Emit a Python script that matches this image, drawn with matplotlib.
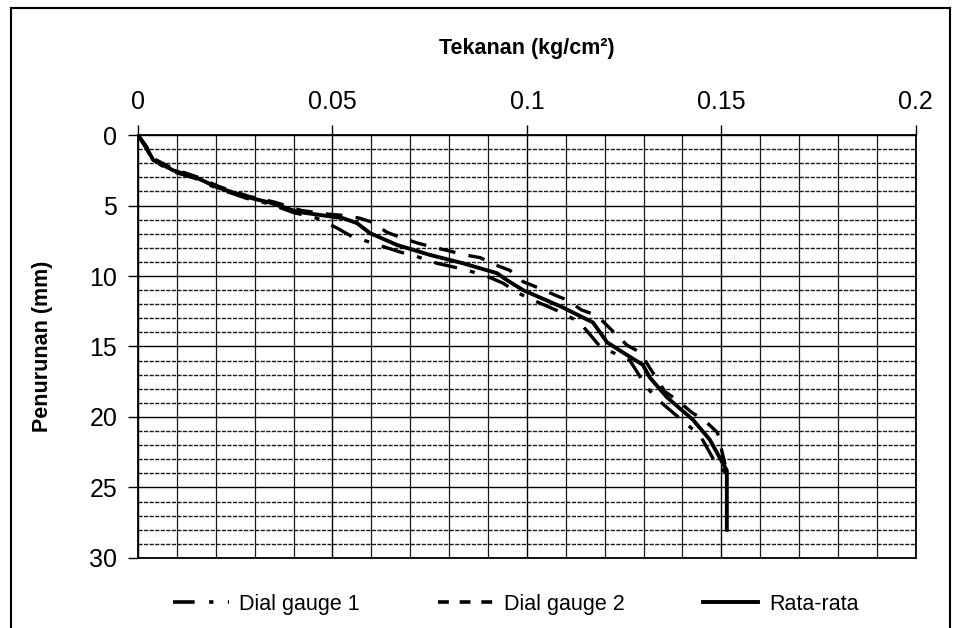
import matplotlib.pyplot as plt
from matplotlib.ticker import MultipleLocator
from matplotlib.lines import Line2D

plt.rcParams['font.family'] = ['Liberation Sans', 'DejaVu Sans']

# tekanan (kg/cm2) dan penurunan (mm)
p_rata = [0, 0.002, 0.0039, 0.009, 0.0152, 0.0203, 0.028, 0.034, 0.041, 0.0476,
          0.0527, 0.0563, 0.0596, 0.0666, 0.075, 0.0836, 0.0923, 0.0949, 0.099,
          0.109, 0.117, 0.1206, 0.1257, 0.1298, 0.1316, 0.136, 0.1427, 0.147,
          0.1514, 0.1514]
s_rata = [0, 0.8, 1.77, 2.5, 3.05, 3.7, 4.4, 4.8, 5.45, 5.7,
          5.9, 6.25, 6.95, 7.8, 8.5, 9.1, 9.8, 10.3, 11.0,
          12.2, 13.3, 14.7, 15.6, 16.3, 17.2, 18.6, 20.2, 21.6,
          23.8, 28.0]

p_dg1 = [0, 0.002, 0.004, 0.009, 0.015, 0.02, 0.028, 0.034, 0.04, 0.046,
         0.0512, 0.055, 0.0596, 0.0674, 0.072, 0.0769, 0.081, 0.0887, 0.0938,
         0.0977, 0.1015, 0.109, 0.1136, 0.1188, 0.1265, 0.1308, 0.1342, 0.1406,
         0.1445, 0.1488, 0.1514]
s_dg1 = [0, 0.9, 1.85, 2.6, 3.1, 3.75, 4.5, 4.9, 5.5, 5.9,
         6.6, 7.2, 7.6, 8.3, 8.65, 9.1, 9.35, 9.9, 10.5,
         11.2, 11.7, 12.6, 13.3, 15.0, 16.0, 17.9, 18.9, 20.4,
         21.3, 23.4, 24.0]

p_dg2 = [0, 0.002, 0.0042, 0.0095, 0.0155, 0.0208, 0.0285, 0.035, 0.042, 0.0485,
         0.0527, 0.057, 0.0604, 0.064, 0.0679, 0.0717, 0.0758, 0.0797, 0.084,
         0.088, 0.0918, 0.0956, 0.099, 0.1026, 0.1072, 0.1103, 0.114, 0.118,
         0.1257, 0.129, 0.1355, 0.1386, 0.1425, 0.1455, 0.149, 0.1514]
s_dg2 = [0, 0.75, 1.7, 2.45, 3.0, 3.65, 4.35, 4.75, 5.35, 5.6,
         5.7, 5.9, 6.2, 6.9, 7.3, 7.65, 7.95, 8.2, 8.5,
         8.7, 9.2, 9.6, 10.4, 10.8, 11.35, 11.7, 12.4, 12.8,
         14.9, 15.4, 18.2, 18.8, 19.7, 20.2, 21.1, 23.9]

fig = plt.figure(figsize=(9.55, 6.28), dpi=100)
fig.subplots_adjust(left=0.1445, right=0.959, top=0.785, bottom=0.1115)
ax = fig.add_subplot(1, 1, 1)

ax.plot(p_dg1, s_dg1, color='black', lw=2.4, dashes=(7, 4, 1.5, 4), label='Dial gauge 1')
ax.plot(p_dg2, s_dg2, color='black', lw=2.4, dashes=(5, 4), label='Dial gauge 2')
ax.plot(p_rata, s_rata, color='black', lw=2.8, label='Rata-rata')

ax.set_xlim(0, 0.2)
ax.set_ylim(30, 0)
ax.xaxis.tick_top()
ax.xaxis.set_label_position('top')
ax.xaxis.set_major_locator(MultipleLocator(0.05))
ax.xaxis.set_minor_locator(MultipleLocator(0.01))
ax.yaxis.set_major_locator(MultipleLocator(5))
ax.yaxis.set_minor_locator(MultipleLocator(1))
ax.set_xticks([0, 0.05, 0.1, 0.15, 0.2])
ax.set_xticklabels(['0', '0.05', '0.1', '0.15', '0.2'])

ax.grid(which='major', color='black', lw=1.0)
ax.grid(which='minor', axis='x', color='#1a1a1a', lw=0.9)
ax.grid(which='minor', axis='y', color='#1a1a1a', lw=1.0, dashes=(3, 1))
ax.set_axisbelow(True)

ax.tick_params(which='major', direction='out', length=7, width=1, labelsize=18, pad=8)
ax.tick_params(which='minor', length=0)
for sp in ax.spines.values():
    sp.set_linewidth(1.3)

ax.set_xlabel('Tekanan (kg/cm²)', fontsize=15.5, fontweight='bold', labelpad=26)
ax.set_ylabel('Penurunan (mm)', fontsize=15.5, fontweight='bold', labelpad=26)

handles = [Line2D([], [], color='black', lw=2.6, dashes=(6, 4, 1.2, 4)),
           Line2D([], [], color='black', lw=2.6, dashes=(3, 3)),
           Line2D([], [], color='black', lw=2.8)]
fig.legend(handles, ['Dial gauge 1', 'Dial gauge 2', 'Rata-rata'], loc='lower center',
           bbox_to_anchor=(0.54, -0.01), ncol=3, frameon=False, fontsize=15.5,
           handlelength=2.6, columnspacing=3.6, handletextpad=0.5)

# bingkai gambar
fig.add_artist(Line2D([0.011, 0.011], [0.0, 0.987], color='black', lw=1.5, transform=fig.transFigure))
fig.add_artist(Line2D([0.011, 0.995], [0.987, 0.987], color='black', lw=1.5, transform=fig.transFigure))
fig.add_artist(Line2D([0.995, 0.995], [0.0, 0.987], color='black', lw=1.5, transform=fig.transFigure))

plt.savefig('out.png')
